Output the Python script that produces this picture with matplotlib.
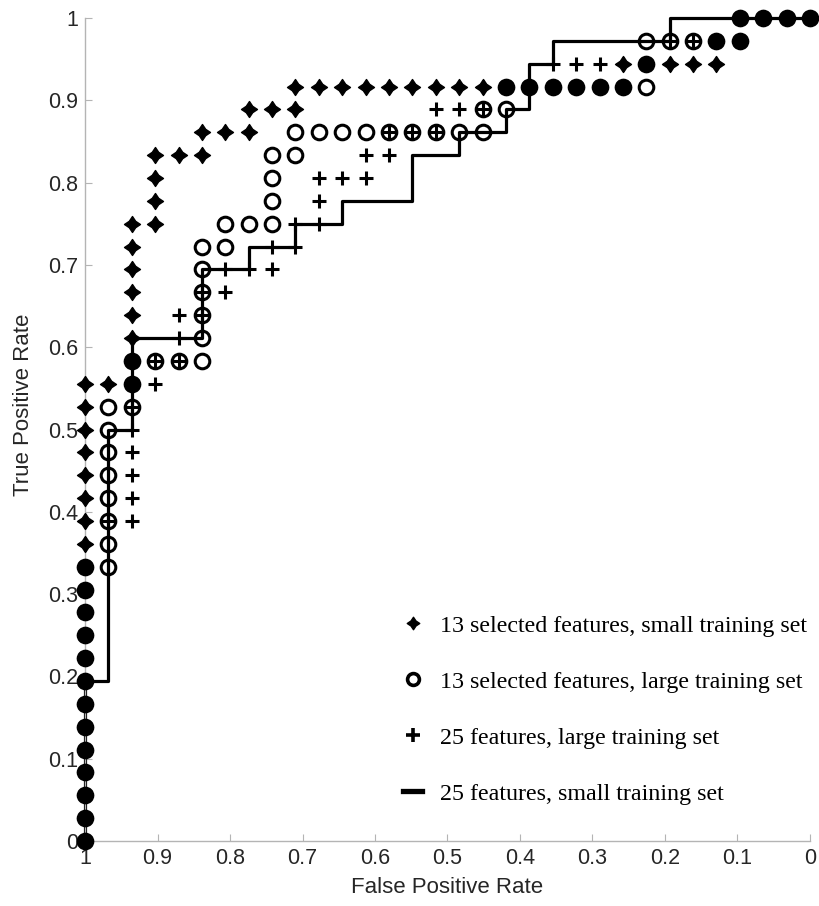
import numpy as np
import matplotlib
matplotlib.use("Agg")
import matplotlib.pyplot as plt
from matplotlib.path import Path
from matplotlib.lines import Line2D

# ROC points (31 negatives, 36 positives)
N_NEG = 31
N_POS = 36

# 13 selected features, small training set (filled star)
sel_small_fp = [31, 31, 31, 31, 31, 31, 31, 31, 31, 31, 31, 31, 31, 31, 31, 31, 31, 31, 31, 31, 31,
                30, 29, 29, 29, 29, 29, 29, 29, 29, 28, 28, 28, 28, 27, 26, 26, 25, 24, 24, 23, 22, 22,
                21, 20, 19, 18, 17, 16, 15, 14, 13, 12, 11, 10, 9, 8, 8, 7, 6, 5, 4, 4, 3, 3, 2, 1, 0]
sel_small_tp = [0, 1, 2, 3, 4, 5, 6, 7, 8, 9, 10, 11, 12, 13, 14, 15, 16, 17, 18, 19, 20,
                20, 20, 21, 22, 23, 24, 25, 26, 27, 27, 28, 29, 30, 30, 30, 31, 31, 31, 32, 32, 32, 33,
                33, 33, 33, 33, 33, 33, 33, 33, 33, 33, 33, 33, 33, 33, 34, 34, 34, 34, 34, 35, 35, 36, 36, 36, 36]

# 13 selected features, large training set (open circle)
sel_large_fp = [31, 31, 31, 31, 31, 31, 31, 31, 31, 31, 31, 31, 31,
                30, 30, 30, 30, 30, 30, 30, 30, 29, 29, 29, 28, 27,
                26, 26, 26, 26, 26, 26, 25, 25, 24, 23, 23, 23, 23, 22, 22,
                21, 20, 19, 18, 17, 16, 15, 14, 14, 13, 13, 12, 11, 10, 9, 8,
                7, 7, 7, 6, 5, 4, 3, 3, 2, 1, 0]
sel_large_tp = [0, 1, 2, 3, 4, 5, 6, 7, 8, 9, 10, 11, 12,
                12, 13, 14, 15, 16, 17, 18, 19, 19, 20, 21, 21, 21,
                21, 22, 23, 24, 25, 26, 26, 27, 27, 27, 28, 29, 30, 30, 31,
                31, 31, 31, 31, 31, 31, 31, 31, 32, 32, 33, 33, 33, 33, 33, 33,
                33, 34, 35, 35, 35, 35, 35, 36, 36, 36, 36]

# 25 features, large training set (plus)
all_large_fp = [31, 31, 31, 31, 31, 31, 31, 31, 31, 31, 31, 31, 31, 31, 31,
                30, 29, 29, 29, 29, 29, 29, 29, 28, 28, 27, 27, 27, 26, 26, 25, 25, 24,
                23, 23, 22, 22, 21, 21, 21, 20, 19, 19, 18, 18, 17, 16, 16, 15, 14, 14,
                13, 12, 11, 11, 10, 9, 8, 7, 6, 6, 5, 4, 3, 3, 2, 1, 0]
all_large_tp = [0, 1, 2, 3, 4, 5, 6, 7, 8, 9, 10, 11, 12, 13, 14,
                14, 14, 15, 16, 17, 18, 19, 20, 20, 21, 21, 22, 23, 23, 24, 24, 25, 25,
                25, 26, 26, 27, 27, 28, 29, 29, 29, 30, 30, 31, 31, 31, 32, 32, 32, 33,
                33, 33, 33, 34, 34, 34, 34, 34, 34, 35, 35, 35, 35, 36, 36, 36, 36]

# 25 features, small training set (step line corners)
all_small_fp = [31, 31, 30, 30, 29, 29, 26, 26, 24, 24, 22, 22, 20, 20, 17, 17, 15, 15,
                13, 13, 12, 12, 11, 11, 6, 6, 0]
all_small_tp = [0, 7, 7, 18, 18, 22, 22, 25, 25, 26, 26, 27, 27, 28, 28, 30, 30, 31,
                31, 32, 32, 34, 34, 35, 35, 36, 36]

labels = ["13 selected features, small training set",
          "13 selected features, large training set",
          "25 features, large training set",
          "25 features, small training set"]
ticks = [0, 0.1, 0.2, 0.3, 0.4, 0.5, 0.6, 0.7, 0.8, 0.9, 1]
tick_labels = ["0", "0.1", "0.2", "0.3", "0.4", "0.5", "0.6", "0.7", "0.8", "0.9", "1"]

# four-pointed star marker
r = 0.4
star = Path([(0, 1), (r, r), (1, 0), (r, -r), (0, -1), (-r, -r), (-1, 0), (-r, r), (0, 1)], closed=True)

fig = plt.figure(figsize=(8.19, 9.06), dpi=100)
ax = fig.add_axes([85 / 819, 1 - 841 / 906, 725 / 819, 823 / 906])

ax.plot(np.array(all_small_fp) / N_NEG, np.array(all_small_tp) / N_POS, "-", color="k", lw=2.3,
        clip_on=False, zorder=2)

# circles that coincide with a star look filled in the original
star_set = set(zip(sel_small_fp, sel_small_tp))
both = [(f, t) for f, t in zip(sel_large_fp, sel_large_tp) if (f, t) in star_set]
only = [(f, t) for f, t in zip(sel_large_fp, sel_large_tp) if (f, t) not in star_set]
both = np.array(both, dtype=float)
only = np.array(only, dtype=float)
ax.plot(only[:, 0] / N_NEG, only[:, 1] / N_POS, "o", ms=10.5, mfc="none", mec="k", mew=2.2,
        clip_on=False, zorder=3)
ax.plot(both[:, 0] / N_NEG, both[:, 1] / N_POS, "o", ms=10.5, mfc="k", mec="k", mew=2.2,
        clip_on=False, zorder=3)
ax.plot(np.array(all_large_fp) / N_NEG, np.array(all_large_tp) / N_POS, "+", ms=9.5, color="k",
        mew=2.2, clip_on=False, zorder=4)
ax.plot(np.array(sel_small_fp) / N_NEG, np.array(sel_small_tp) / N_POS, ls="none", marker=star,
        ms=11.5, color="k", clip_on=False, zorder=4)

ax.set_xlim(1, 0)
ax.set_ylim(0, 1)
ax.set_xticks(ticks)
ax.set_xticklabels(tick_labels)
ax.set_yticks(ticks)
ax.set_yticklabels(tick_labels)
for s in ["top", "right"]:
    ax.spines[s].set_visible(False)
for s in ["left", "bottom"]:
    ax.spines[s].set_color("#b4b4b4")
    ax.spines[s].set_linewidth(1)
ax.tick_params(direction="in", length=5, color="#b4b4b4", labelcolor="#262626", pad=5)
for lab in ax.get_xticklabels() + ax.get_yticklabels():
    lab.set_fontfamily("Liberation Sans")
    lab.set_fontsize(15.5)
ax.set_xlabel("False Positive Rate", family="Liberation Sans", fontsize=16, color="#262626",
              labelpad=6)
ax.set_ylabel("True Positive Rate", family="Liberation Sans", fontsize=16, color="#262626")
ax.yaxis.set_label_coords(-0.07, 0.53)

handles = [Line2D([], [], ls="none", marker=star, ms=9, color="k"),
           Line2D([], [], ls="none", marker="o", ms=8.5, mfc="none", mec="k", mew=2.6),
           Line2D([], [], ls="none", marker="+", ms=9.5, color="k", mew=2.6),
           Line2D([], [], color="k", lw=3.8)]
fig.legend(handles, labels, loc="upper left", bbox_to_anchor=(403 / 819, 1 - 615 / 906),
           frameon=False, borderpad=0, borderaxespad=0, handlelength=0.8, handletextpad=0.75,
           labelspacing=1.42, prop={"family": "Liberation Serif", "size": 17.3})

fig.savefig("out.png", dpi=100)
